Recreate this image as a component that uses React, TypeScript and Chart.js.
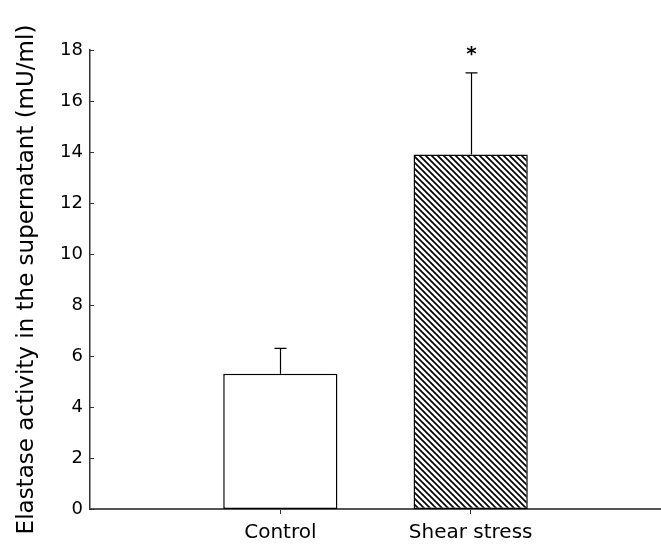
import React, { useEffect, useRef } from "react";
import { Chart, registerables } from "chart.js";

Chart.register(...registerables);

// Groups, mean elastase activity (mU/ml) and upper error (SEM)
const categories = ["Control", "Shear stress"];
const means = [5.3, 13.9];
const errors = [1.0, 3.2];
const significant = [false, true];
const yTicks = [0, 2, 4, 6, 8, 10, 12, 14, 16, 18];

const FONT = "'DejaVu Sans', sans-serif";

// Diagonal "\\" hatch used for the shear-stress bar
function makeHatch(): CanvasPattern | string {
  const size = 6;
  const c = document.createElement("canvas");
  c.width = size;
  c.height = size;
  const g = c.getContext("2d");
  if (!g) return "#000";
  g.fillStyle = "#fff";
  g.fillRect(0, 0, size, size);
  g.strokeStyle = "#000";
  g.lineWidth = 1.7;
  g.beginPath();
  g.moveTo(-1, -1);
  g.lineTo(size + 1, size + 1);
  g.moveTo(-size - 1, -1);
  g.lineTo(1, size + 1);
  g.moveTo(size - 1, -1);
  g.lineTo(2 * size + 1, size + 1);
  g.stroke();
  return g.createPattern(c, "repeat") || "#000";
}

// Upper error whiskers, significance marks and inward y ticks
const decorations = {
  id: "decorations",
  afterDatasetsDraw(chart: any) {
    const ctx = chart.ctx;
    const y = chart.scales.y;
    const meta = chart.getDatasetMeta(0);
    ctx.save();
    ctx.strokeStyle = "#000";
    ctx.lineWidth = 1.2;
    meta.data.forEach((bar: any, i: number) => {
      const x = Math.round(bar.x) + 0.5;
      const top = y.getPixelForValue(means[i]);
      const cap = y.getPixelForValue(means[i] + errors[i]);
      ctx.beginPath();
      ctx.moveTo(x, top);
      ctx.lineTo(x, cap);
      ctx.moveTo(x - 6, cap);
      ctx.lineTo(x + 6, cap);
      ctx.stroke();
      if (significant[i]) {
        ctx.fillStyle = "#000";
        ctx.font = `bold 20px ${FONT}`;
        ctx.textAlign = "center";
        ctx.textBaseline = "alphabetic";
        ctx.fillText("*", x, cap - 13);
      }
    });
    const left = chart.chartArea.left;
    ctx.strokeStyle = "#333";
    ctx.lineWidth = 1;
    yTicks.forEach((v) => {
      const py = Math.round(y.getPixelForValue(v)) + 0.5;
      ctx.beginPath();
      ctx.moveTo(left, py);
      ctx.lineTo(left + 4, py);
      ctx.stroke();
    });
    ctx.restore();
  },
};

export default function App() {
  const ref = useRef<HTMLCanvasElement | null>(null);

  useEffect(() => {
    if (!ref.current) return;
    const hatch = makeHatch();
    const chart = new Chart(ref.current, {
      type: "bar",
      data: {
        datasets: [
          {
            data: categories.map((_, i) => ({ x: i + 1, y: means[i] })),
            backgroundColor: ["#ffffff", hatch as any],
            borderColor: "#000",
            borderWidth: 1.5,
            borderSkipped: false,
            barPercentage: 0.6,
            categoryPercentage: 1,
          },
        ],
      },
      options: {
        animation: false,
        responsive: true,
        maintainAspectRatio: false,
        layout: { padding: { top: 50, right: 0, bottom: 0, left: 0 } },
        plugins: {
          legend: { display: false },
          tooltip: { enabled: false },
        },
        scales: {
          x: {
            type: "linear",
            min: 0,
            max: 3,
            offset: false,
            afterBuildTicks: (scale: any) => {
              scale.ticks = categories.map((_, i) => ({ value: i + 1 }));
            },
            afterFit: (scale: any) => {
              scale.height = 37;
            },
            ticks: {
              callback: (v: any) => categories[Number(v) - 1] ?? "",
              font: { family: FONT, size: 20 },
              color: "#000",
              padding: 7,
              maxRotation: 0,
              autoSkip: false,
            },
            grid: {
              display: true,
              offset: false,
              drawOnChartArea: false,
              drawTicks: true,
              tickLength: 5,
              color: "#333",
            },
            border: { display: true, color: "#555", width: 2 },
          },
          y: {
            min: 0,
            max: 18,
            afterBuildTicks: (scale: any) => {
              scale.ticks = yTicks.map((v) => ({ value: v }));
            },
            afterFit: (scale: any) => {
              scale.width = 90;
            },
            ticks: {
              font: { family: FONT, size: 18 },
              color: "#000",
              padding: 7,
            },
            grid: { display: false, drawTicks: false },
            border: { display: true, color: "#333", width: 1.5 },
            title: {
              display: true,
              text: "Elastase activity in the supernatant (mU/ml)",
              font: { family: FONT, size: 23 },
              color: "#000",
              padding: { top: 13, bottom: 0 },
            },
          },
        },
      },
      plugins: [decorations],
    });
    return () => chart.destroy();
  }, []);

  return (
    <div
      style={{
        position: "fixed",
        left: 0,
        top: 0,
        width: 661,
        height: 546,
        background: "#fff",
      }}
    >
      <canvas ref={ref} />
    </div>
  );
}
